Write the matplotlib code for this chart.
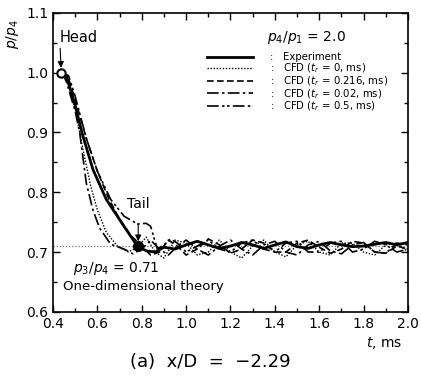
import numpy as np
import matplotlib
matplotlib.use("Agg")
import matplotlib.pyplot as plt
from matplotlib.ticker import MultipleLocator

plt.rcParams['font.family'] = ['DejaVu Sans']
plt.rcParams['mathtext.fontset'] = 'dejavusans'

# experiment (solid)
t_exp = [0.43, 0.46, 0.48, 0.50, 0.53, 0.58, 0.64, 0.72, 0.78, 0.82, 0.86, 0.90, 0.95,
         1.00, 1.05, 1.10, 1.15, 1.20, 1.25, 1.30, 1.35, 1.40, 1.45, 1.50, 1.55, 1.60, 1.65,
         1.70, 1.75, 1.80, 1.85, 1.90, 1.95, 2.00]
p_exp = [1.000, 0.995, 0.970, 0.945, 0.900, 0.838, 0.788, 0.743, 0.710, 0.702, 0.700,
         0.708, 0.705, 0.712, 0.718, 0.712, 0.706, 0.710, 0.716, 0.712, 0.706, 0.712, 0.717,
         0.709, 0.706, 0.712, 0.716, 0.712, 0.709, 0.710, 0.713, 0.716, 0.712, 0.716]

# CFD t_r = 0 (dotted)
t_c0 = [0.44, 0.46, 0.50, 0.53, 0.57, 0.60, 0.64, 0.69, 0.74, 0.78, 0.82, 0.86, 0.90, 0.95,
        1.00, 1.05, 1.10, 1.15, 1.20, 1.25, 1.30, 1.35, 1.40, 1.45, 1.50, 1.55, 1.60, 1.65,
        1.70, 1.75, 1.80, 1.85, 1.90, 1.95, 2.00]
p_c0 = [1.000, 0.990, 0.940, 0.880, 0.810, 0.770, 0.733, 0.710, 0.700, 0.708, 0.725, 0.700,
        0.690, 0.720, 0.715, 0.695, 0.700, 0.720, 0.700, 0.690, 0.710, 0.720, 0.700, 0.692,
        0.712, 0.718, 0.700, 0.695, 0.715, 0.715, 0.700, 0.695, 0.712, 0.715, 0.700]

# CFD t_r = 0.216 (dashed)
t_c216 = [0.44, 0.47, 0.50, 0.55, 0.60, 0.65, 0.70, 0.75, 0.80, 0.84, 0.88, 0.92, 0.96, 1.00,
          1.05, 1.10, 1.15, 1.20, 1.25, 1.30, 1.35, 1.40, 1.45, 1.50, 1.55, 1.60, 1.65, 1.70,
          1.75, 1.80, 1.85, 1.90, 1.95, 2.00]
p_c216 = [1.000, 0.990, 0.955, 0.890, 0.835, 0.790, 0.755, 0.728, 0.710, 0.695, 0.700, 0.720,
          0.710, 0.695, 0.705, 0.722, 0.712, 0.698, 0.705, 0.720, 0.715, 0.700, 0.700, 0.715,
          0.720, 0.708, 0.698, 0.705, 0.718, 0.715, 0.700, 0.698, 0.710, 0.705]

# CFD t_r = 0.02 (dash-dot)
t_c02 = [0.44, 0.46, 0.50, 0.52, 0.55, 0.58, 0.61, 0.66, 0.72, 0.76, 0.80, 0.84, 0.88, 0.92,
         0.96, 1.00, 1.05, 1.10, 1.15, 1.20, 1.25, 1.30, 1.35, 1.40, 1.45, 1.50, 1.55, 1.60,
         1.65, 1.70, 1.75, 1.80, 1.85, 1.90, 1.95, 2.00]
p_c02 = [1.000, 0.985, 0.935, 0.900, 0.815, 0.770, 0.740, 0.713, 0.705, 0.697, 0.705, 0.720,
         0.705, 0.695, 0.710, 0.720, 0.705, 0.695, 0.710, 0.720, 0.705, 0.695, 0.712, 0.718,
         0.700, 0.695, 0.712, 0.718, 0.702, 0.697, 0.712, 0.716, 0.700, 0.698, 0.715, 0.712]

# CFD t_r = 0.5 (dash-dot-dot)
t_c5 = [0.44, 0.47, 0.50, 0.55, 0.60, 0.66, 0.72, 0.78, 0.82, 0.84, 0.87, 0.90, 0.93, 0.96,
        1.00, 1.05, 1.10, 1.15, 1.20, 1.25, 1.30, 1.35, 1.40, 1.45, 1.50, 1.55, 1.60, 1.65,
        1.70, 1.75, 1.80, 1.85, 1.90, 1.95, 2.00]
p_c5 = [1.000, 0.995, 0.960, 0.890, 0.835, 0.788, 0.760, 0.747, 0.748, 0.743, 0.705, 0.712,
        0.722, 0.715, 0.700, 0.710, 0.720, 0.705, 0.700, 0.715, 0.720, 0.705, 0.700, 0.715,
        0.718, 0.700, 0.700, 0.715, 0.718, 0.700, 0.705, 0.718, 0.712, 0.700, 0.705]

p_theory = 0.71
head = (0.436, 1.0)
tail = (0.784, 0.71)

fig = plt.figure(figsize=(4.21, 3.78), dpi=100)
ax = fig.add_axes([0.126, 0.175, 0.843, 0.791])

ax.axhline(p_theory, color='0.45', linestyle=(0, (1, 1.5)), linewidth=0.9)
ax.plot(t_exp, p_exp, color='k', linewidth=2.0, label='Experiment')
ax.plot(t_c0, p_c0, color='k', linewidth=1.0, linestyle=(0, (1, 1.2)), label=r'CFD ($t_r$ = 0, ms)')
ax.plot(t_c216, p_c216, color='k', linewidth=1.2, linestyle=(0, (4, 2)), label=r'CFD ($t_r$ = 0.216, ms)')
ax.plot(t_c02, p_c02, color='k', linewidth=1.2, linestyle=(0, (7, 2, 1.5, 2)), label=r'CFD ($t_r$ = 0.02, ms)')
ax.plot(t_c5, p_c5, color='k', linewidth=1.2, linestyle=(0, (7, 2, 1.5, 1.5, 1.5, 2)), label=r'CFD ($t_r$ = 0.5, ms)')

ax.plot(*head, 'o', mfc='white', mec='k', mew=1.5, ms=6, zorder=5)
ax.plot(*tail, 'o', color='k', ms=7, zorder=5)

ax.annotate('Head', xy=(head[0], 1.008), xytext=(0.43, 1.058), fontsize=10.5,
            ha='left', va='center',
            arrowprops=dict(arrowstyle='-|>', color='k', lw=0.8, mutation_scale=9,
                            shrinkA=0, shrinkB=0, relpos=(0.0, 0.5)))
ax.annotate('Tail', xy=(tail[0], 0.718), xytext=(tail[0], 0.78), fontsize=10,
            ha='center', va='center',
            arrowprops=dict(arrowstyle='-|>', color='k', lw=0.8, mutation_scale=9,
                            shrinkA=7, shrinkB=0))

ax.text(0.49, 0.672, r'$p_3/p_4$ = 0.71', fontsize=10, ha='left', va='center')
ax.text(0.445, 0.642, 'One-dimensional theory', fontsize=9.5, ha='left', va='center')
ax.text(0.604, 0.916, r'$p_4/p_1$ = 2.0', transform=ax.transAxes, fontsize=10,
        ha='left', va='center')

leg = ax.legend(loc='upper left', bbox_to_anchor=(0.434, 0.868), frameon=False,
                fontsize=7.3, handlelength=4.5, handletextpad=1.7, labelspacing=-0.08,
                borderpad=0, borderaxespad=0)
for txt in leg.get_texts():
    txt.set_text(':   ' + txt.get_text())

ax.set_xlim(0.4, 2.0)
ax.set_ylim(0.6, 1.1)
ax.xaxis.set_major_locator(MultipleLocator(0.2))
ax.xaxis.set_minor_locator(MultipleLocator(0.1))
ax.yaxis.set_major_locator(MultipleLocator(0.1))
ax.yaxis.set_minor_locator(MultipleLocator(0.05))
ax.tick_params(which='both', direction='in', top=True, right=True, labelsize=10)
ax.tick_params(which='major', length=5, width=1)
ax.tick_params(which='minor', length=3, width=1)
for s in ax.spines.values():
    s.set_linewidth(1.2)

ax.text(-0.115, 0.93, r'$p/p_4$', transform=ax.transAxes, rotation=90,
        fontsize=10, ha='center', va='center')
ax.text(0.985, -0.105, r'$t$, ms', transform=ax.transAxes, fontsize=10,
        ha='right', va='center')
fig.text(0.5, 0.042, '(a)  x/D  =  \u22122.29', fontsize=13, ha='center', va='center')

fig.savefig('out.png', dpi=100)
